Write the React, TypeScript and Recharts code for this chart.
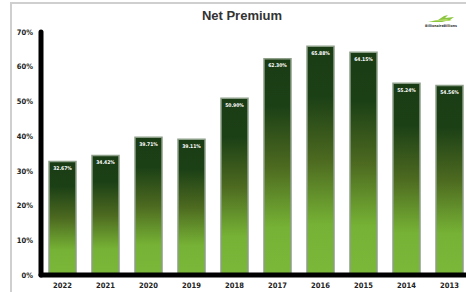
import { BarChart, Bar, XAxis, YAxis, LabelList } from 'recharts';

const years = ['2022', '2021', '2020', '2019', '2018', '2017', '2016', '2015', '2014', '2013'];
const netPremium = [32.67, 34.42, 39.71, 39.11, 50.9, 62.3, 65.88, 64.15, 55.24, 54.56];
const yTicks = [0, 10, 20, 30, 40, 50, 60, 70];

const data = years.map((year, i) => ({ year, value: netPremium[i] }));

const font = "'DejaVu Sans Condensed', 'Liberation Sans Narrow', sans-serif";

function Logo() {
  return (
    <svg width={34} height={16} style={{ position: 'absolute', left: 424, top: 13 }}>
      <path d="M4 9 L14 7 L20 3 L24 2 L21 5 L30 4 L26 7 L18 9 Z" fill="#8cc63f" />
      <path d="M8 8 L22 6 L28 8 Z" fill="#b6dc6a" />
      <text x={17} y={13.5} textAnchor="middle" fontSize={3.6} fontWeight={700} fill="#333" fontFamily={font}>
        BillionaireBillions
      </text>
    </svg>
  );
}

export default function App() {
  return (
    <div
      style={{
        position: 'absolute',
        left: 0,
        top: 0,
        width: 466,
        height: 292,
        overflow: 'hidden',
        background: '#fff',
      }}
    >
      <div style={{ position: 'absolute', left: 10, top: 2, right: 0, height: 2, background: '#cfcfcf' }} />
      <div style={{ position: 'absolute', left: 10, top: 2, width: 2, bottom: 0, background: '#cfcfcf' }} />
      <div
        style={{
          position: 'absolute',
          left: 0,
          width: 484,
          top: 8,
          textAlign: 'center',
          fontFamily: "'Liberation Sans', Arial, sans-serif",
          fontWeight: 700,
          fontSize: 13,
          color: '#333',
        }}
      >
        Net Premium
      </div>
      <Logo />
      <div style={{ position: 'absolute', left: 0, top: 0 }}>
        <BarChart width={480} height={292} data={data} margin={{ top: 32, right: 9, bottom: 0, left: 0 }}>
          <defs>
            <linearGradient id="barFill" x1="0" y1="0" x2="0" y2="1">
              <stop offset="0%" stopColor="#1a3c15" />
              <stop offset="22%" stopColor="#1c4016" />
              <stop offset="50%" stopColor="#4d6a20" />
              <stop offset="78%" stopColor="#76b235" />
              <stop offset="100%" stopColor="#7bb83a" />
            </linearGradient>
          </defs>
          <XAxis
            dataKey="year"
            height={17}
            tickLine={false}
            axisLine={{ stroke: '#000', strokeWidth: 5, strokeLinecap: 'round' }}
            tick={{ fontSize: 7.5, fontWeight: 700, fill: '#222', fontFamily: font }}
          />
          <YAxis
            width={41}
            domain={[0, 70]}
            ticks={yTicks}
            tickLine={false}
            axisLine={{ stroke: '#000', strokeWidth: 5, strokeLinecap: 'round' }}
            tickFormatter={(v: number) => `${v}%`}
            tick={{ fontSize: 7.5, fontWeight: 700, fill: '#222', fontFamily: font }}
          />
          <Bar
            dataKey="value"
            barSize={27}
            fill="url(#barFill)"
            stroke="#8d9f88"
            strokeWidth={1.5}
            isAnimationActive={false}
          >
            <LabelList
              dataKey="value"
              position="insideTop"
              offset={5}
              formatter={(v: number) => `${v.toFixed(2)}%`}
              style={{ fontSize: 5, fontWeight: 700, fill: '#fff', fontFamily: font }}
            />
          </Bar>
        </BarChart>
      </div>
    </div>
  );
}
